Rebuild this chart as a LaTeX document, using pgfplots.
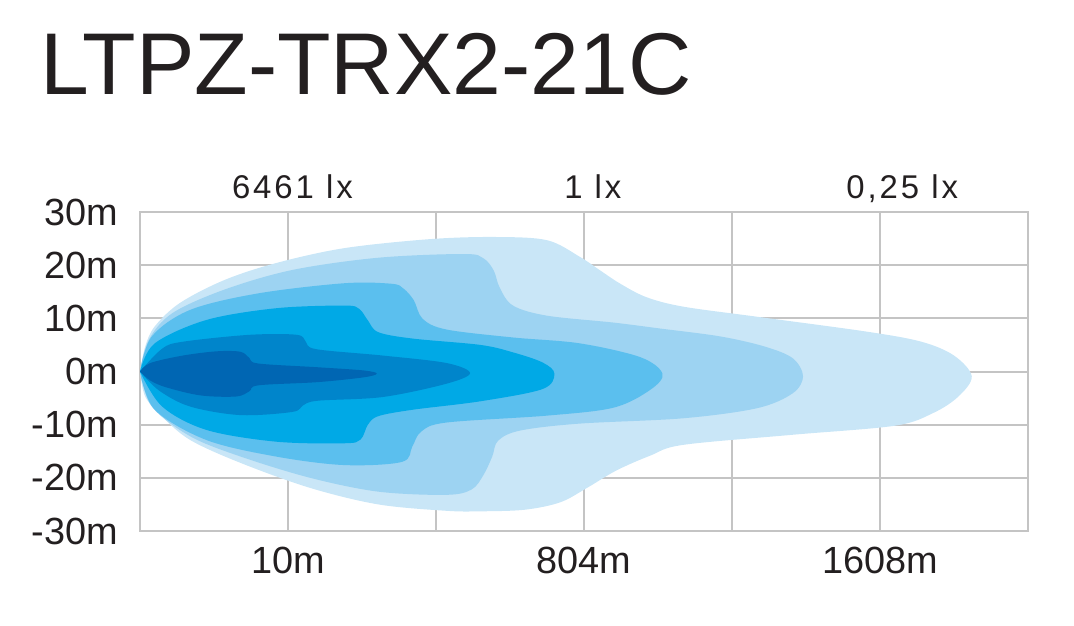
\documentclass[border=0pt]{standalone}
\usepackage{fontspec}
\setmainfont{Liberation Sans}
\newfontfamily\spaced[LetterSpace=9]{Liberation Sans}
\usepackage{pgfplots}
\pgfplotsset{compat=1.18}
\definecolor{txt}{HTML}{231F20}
\definecolor{gridc}{HTML}{C4C4C4}
\definecolor{cA}{HTML}{0066B3}
\definecolor{cB}{HTML}{0085CB}
\definecolor{cC}{HTML}{00A9E6}
\definecolor{cD}{HTML}{5BBFEE}
\definecolor{cE}{HTML}{9DD3F2}
\definecolor{cF}{HTML}{C9E6F7}
\begin{document}
\begin{tikzpicture}
\path[use as bounding box] (0bp,0bp) rectangle (1074bp,626bp);
\node[anchor=base west, inner sep=0pt, text=txt, font=\fontsize{88}{88}\selectfont] at (40bp,531bp) {LTPZ-TRX2-21C};
\begin{axis}[
  at={(140bp,95bp)}, anchor=south west,
  scale only axis, width=888bp, height=319bp,
  xmin=0, xmax=6, ymin=-30, ymax=30,
  xtick={0,1,2,3,4,5,6},
  xticklabels={,10m,,804m,,1608m,},
  ytick={-30,-20,-10,0,10,20,30},
  yticklabels={-30m,-20m,-10m,0m,10m,20m,30m},
  grid=major,
  major grid style={line width=2bp, color=gridc},
  axis line style={line width=2.2bp, color=gridc},
  tick style={draw=none},
  major tick length=0pt,
  xticklabel style={anchor=north, inner sep=0pt, yshift=-16bp, text=txt, font=\fontsize{38}{38}\selectfont},
  yticklabel style={anchor=east, inner sep=0pt, xshift=-22bp, text=txt, font=\fontsize{38}{38}\selectfont},
  clip=false,
  axis on top=false,
]
% lightest
\addplot[fill=cF, draw=none, smooth, tension=0.55] coordinates {
(0,0) (0.035,4.7) (0.10,8.5) (0.27,12.9) (0.57,17.2) (0.92,20.4) (1.38,23.2) (1.96,24.9) (2.4,25.3) (2.75,24.7) (2.97,21.6) (3.11,19) (3.24,16.6) (3.42,14.0) (3.67,12.2) (4.17,10.3) (4.91,7.5) (5.28,5.6) (5.50,3.0) (5.62,-0.9) (5.53,-4.7) (5.36,-7.8) (5.10,-10.2) (4.41,-11.9) (3.67,-13.8) (3.45,-15.8) (3.22,-18.6) (3.02,-21.9) (2.84,-24.6) (2.60,-26.0) (2.30,-26.3) (2.07,-26.2) (1.61,-25) (1.15,-21.9) (0.68,-17.2) (0.34,-12.9) (0.15,-8.5) (0.035,-4.7) (0,0)
};
% fifth
\addplot[fill=cE, draw=none, smooth, tension=0.55] coordinates {
(0,0) (0.06,6) (0.22,11) (0.57,15.4) (1.03,19.1) (1.61,21.4) (2.19,22.1) (2.32,21.3) (2.39,19) (2.43,15.8) (2.52,12.4) (2.75,10.5) (3.20,9.2) (3.51,8.1) (3.92,6.6) (4.22,4.7) (4.41,2.5) (4.48,-0.9) (4.41,-4.1) (4.17,-6.9) (3.67,-8.8) (2.97,-9.8) (2.57,-11.1) (2.42,-13) (2.38,-16) (2.32,-19.5) (2.24,-22.2) (2.07,-23.2) (1.61,-22.6) (1.15,-20) (0.68,-16) (0.34,-12.2) (0.08,-6.6) (0,0)
};
% fourth
\addplot[fill=cD, draw=none, smooth, tension=0.55] coordinates {
(0,0) (0.08,6.6) (0.34,11.6) (0.80,14.7) (1.38,16.6) (1.70,16.5) (1.78,15.6) (1.85,13.4) (1.91,9.9) (2.07,7.9) (2.52,6.4) (2.97,5.3) (3.38,2.7) (3.53,-0.4) (3.45,-3.4) (3.2,-6.8) (2.75,-8.3) (2.07,-9.6) (1.90,-11.3) (1.84,-14.1) (1.77,-17.0) (1.38,-17.6) (0.92,-16) (0.45,-12.9) (0.10,-7.2) (0,0)
};
% third
\addplot[fill=cC, draw=none, smooth, tension=0.55] coordinates {
(0,0) (0.10,5.3) (0.45,9.7) (0.92,11.9) (1.38,12.4) (1.48,11.8) (1.54,9.6) (1.61,7.4) (1.84,6.2) (2.30,5) (2.52,3.6) (2.72,1.7) (2.80,-0.4) (2.72,-3.3) (2.30,-5.6) (1.84,-7.2) (1.61,-8.4) (1.54,-10) (1.49,-12.8) (1.38,-13.5) (0.92,-13.2) (0.45,-11) (0.15,-6.6) (0,0)
};
% second
\addplot[fill=cB, draw=none, smooth, tension=0.55] coordinates {
(0,0) (0.15,4.3) (0.29,5.6) (0.74,6.9) (1.06,6.9) (1.12,5.6) (1.19,4.2) (1.64,3) (2.07,1.6) (2.23,-0.3) (2.07,-2.3) (1.64,-4.8) (1.20,-5.5) (1.10,-6.4) (1.03,-7.6) (0.68,-8.2) (0.34,-6.6) (0.13,-3.6) (0,0)
};
% darkest
\addplot[fill=cA, draw=none, smooth, tension=0.55] coordinates {
(0,0) (0.07,1.6) (0.29,3) (0.52,3.8) (0.68,3.7) (0.74,2.5) (0.80,1.5) (1.20,0.8) (1.51,0.2) (1.60,-0.4) (1.51,-1.1) (1.20,-2) (0.80,-2.6) (0.74,-3.7) (0.65,-4.7) (0.41,-4.5) (0.18,-3) (0.07,-1.7) (0,0)
};
\node[anchor=base, inner sep=0pt, text=txt, font=\spaced\fontsize{33}{33}\selectfont, yshift=14bp] at (axis cs:1.03,30) {6461 lx};
\node[anchor=base, inner sep=0pt, text=txt, font=\spaced\fontsize{33}{33}\selectfont, yshift=14bp] at (axis cs:3.06,30) {1 lx};
\node[anchor=base, inner sep=0pt, text=txt, font=\spaced\fontsize{33}{33}\selectfont, yshift=14bp] at (axis cs:5.15,30) {0,25 lx};
\end{axis}
\end{tikzpicture}
\end{document}
